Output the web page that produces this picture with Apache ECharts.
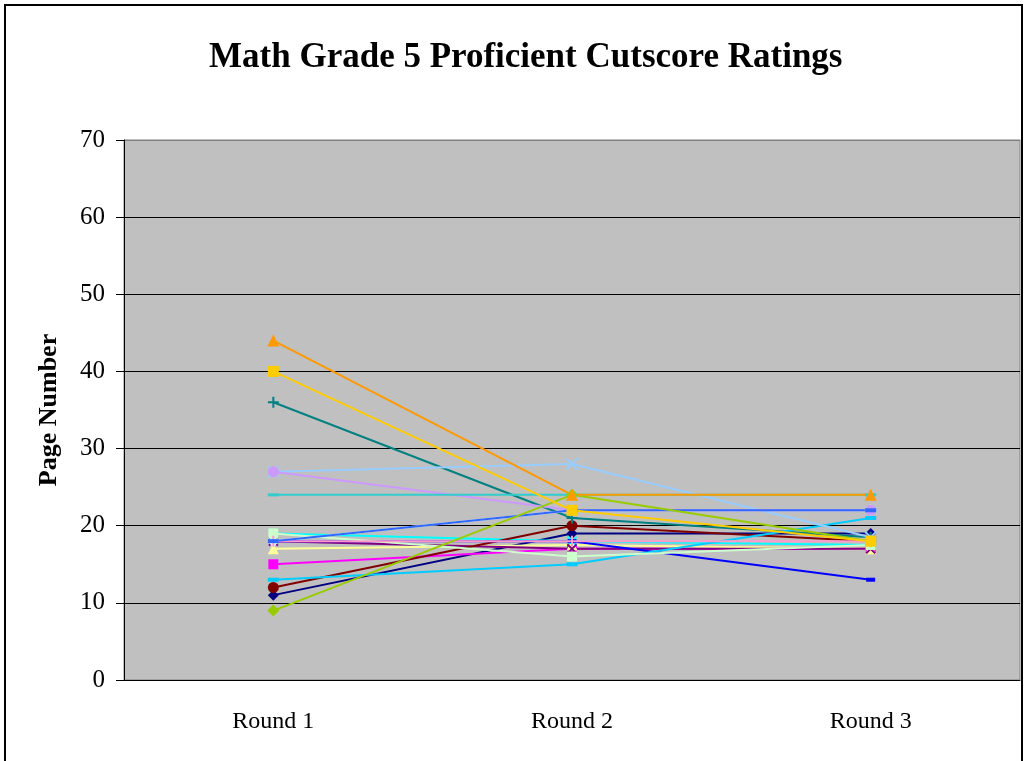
<!DOCTYPE html>
<html>
<head>
<meta charset="utf-8">
<script src="https://cdn.jsdelivr.net/npm/echarts@6/dist/echarts.min.js"></script>
<style>
  html, body { margin: 0; padding: 0; background: #fff; }
  #chart { width: 1024px; height: 761px; }
</style>
</head>
<body>
<div id="chart"></div>
<script>
// categories and axis
var rounds = ['Round 1', 'Round 2', 'Round 3']
var yMin = 0
var yMax = 70
var yStep = 10

// one rating per round
var p01 = [11, 19, 19]
var p02 = [15, 17, 17]
var p03 = [17, 17.5, 17]
var p04 = [19, 18, 17.5]
var p05 = [18, 17, 17]
var p06 = [12, 20, 18]
var p07 = [36, 21, 18.5]
var p08 = [18, 18, 13]
var p09 = [13, 15, 21]
var p10 = [18, 22, 22]
var p11 = [19, 16, 17.5]
var p12 = [27, 28, 18.5]
var p13 = [18, 18, 18]
var p14 = [27, 22, 22]
var p15 = [18, 22, 22]
var p16 = [24, 24, 24]
var p17 = [9, 24, 18]
var p18 = [40, 22, 18]
var p19 = [44, 24, 24]

var ratings = [p01, p02, p03, p04, p05, p06, p07, p08, p09, p10, p11, p12, p13, p14, p15, p16, p17, p18, p19]

// excel-like marker styles
var xMark = 'path://M0,0L10,10M10,0L0,10'
var plusMark = 'path://M5,0L5,10M0,5L10,5'
var styles = [
  { color: '#000080', symbol: 'diamond', size: 11 },
  { color: '#FF00FF', symbol: 'rect', size: 10 },
  { color: '#FFFF99', symbol: 'triangle', size: 11 },
  { color: '#00FFFF', symbol: xMark, size: 9, stroke: true },
  { color: '#800080', symbol: xMark, size: 9, stroke: true },
  { color: '#800000', symbol: 'circle', size: 11 },
  { color: '#008080', symbol: plusMark, size: 11, stroke: true },
  { color: '#0000FF', symbol: 'rect', size: [9, 4] },
  { color: '#00CCFF', symbol: 'rect', size: [11, 4] },
  { color: '#CCFFFF', symbol: 'diamond', size: 12 },
  { color: '#CCFFCC', symbol: 'rect', size: 10 },
  { color: '#99CCFF', symbol: xMark, size: 11, stroke: true },
  { color: '#FF99CC', symbol: plusMark, size: 11, stroke: true },
  { color: '#CC99FF', symbol: 'circle', size: 11 },
  { color: '#3366FF', symbol: 'rect', size: [11, 4] },
  { color: '#33CCCC', symbol: 'rect', size: [11, 3] },
  { color: '#99CC00', symbol: 'diamond', size: 12 },
  { color: '#FFCC00', symbol: 'rect', size: 11 },
  { color: '#FF9900', symbol: 'triangle', size: 12 }
]

var font = 'Liberation Serif'
var chart = echarts.init(document.getElementById('chart'))

var gridColors = []
for (var v = yMin; v <= yMax; v += yStep) {
  gridColors.push(v === yMax ? '#808080' : '#000000')
}

chart.setOption({
  animation: false,
  backgroundColor: '#ffffff',
  title: {
    text: 'Math Grade 5 Proficient Cutscore Ratings',
    left: 204,
    top: 35,
    textStyle: { fontFamily: font, fontSize: 35, fontWeight: 'bold', color: '#000' }
  },
  graphic: [{
    type: 'rect',
    shape: { x: 5, y: 5, width: 1017, height: 780 },
    style: { fill: 'none', stroke: '#000', lineWidth: 2 },
    silent: true
  }],
  grid: {
    left: 124,
    right: 4,
    top: 140,
    bottom: 81,
    show: true,
    backgroundColor: '#C0C0C0',
    borderColor: '#808080',
    borderWidth: 1
  },
  xAxis: {
    type: 'category',
    data: rounds,
    boundaryGap: true,
    axisLine: { lineStyle: { color: '#000', width: 1 } },
    axisTick: { length: 8, lineStyle: { color: '#000' } },
    axisLabel: { fontFamily: font, fontSize: 24, color: '#000', margin: 30 }
  },
  yAxis: {
    type: 'value',
    min: yMin,
    max: yMax,
    interval: yStep,
    name: 'Page Number',
    nameLocation: 'middle',
    nameGap: 62,
    nameTextStyle: { fontFamily: font, fontSize: 26, fontWeight: 'bold', color: '#000' },
    axisLine: { show: true, lineStyle: { color: '#000' } },
    axisTick: { show: true, length: 8, lineStyle: { color: '#000' } },
    axisLabel: { fontFamily: font, fontSize: 25, color: '#000', margin: 19 },
    splitLine: { show: true, lineStyle: { color: gridColors, width: 1 } }
  },
  series: ratings.map(function (vals, i) {
    var s = styles[i]
    return {
      name: 'Panelist ' + (i + 1),
      type: 'line',
      data: vals,
      symbol: s.symbol,
      symbolSize: s.size,
      showAllSymbol: true,
      lineStyle: { color: s.color, width: 2 },
      itemStyle: s.stroke
        ? { color: s.color, borderColor: s.color, borderWidth: 2 }
        : { color: s.color, borderWidth: 0 }
    }
  })
})
</script>
</body>
</html>
